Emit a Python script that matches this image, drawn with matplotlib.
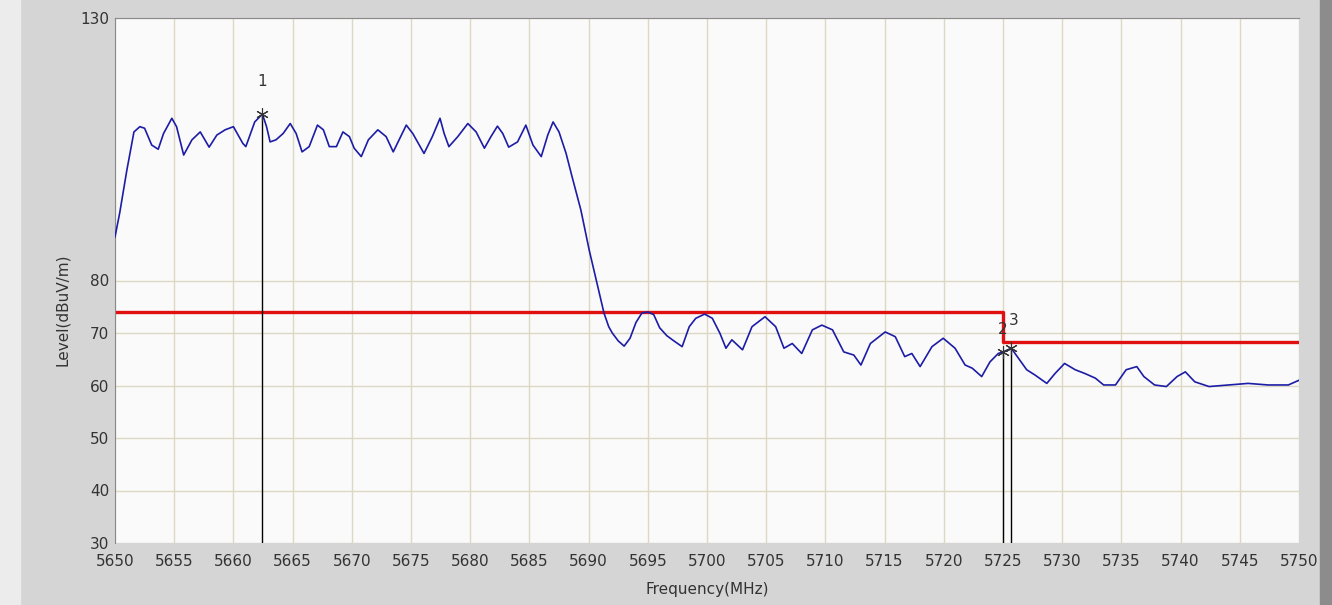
import matplotlib.pyplot as plt
from matplotlib.patches import Rectangle

freq = [5650.0, 5650.4, 5651.0, 5651.6, 5652.1, 5652.5, 5653.1, 5653.65, 5654.1, 5654.8,
        5655.2, 5655.8, 5656.5, 5657.2, 5657.95, 5658.6, 5659.3, 5660.0, 5660.8, 5661.05,
        5661.8, 5662.45, 5662.8, 5663.1, 5663.6, 5664.2, 5664.8, 5665.3, 5665.8, 5666.4,
        5667.1, 5667.6, 5668.1, 5668.7, 5669.25, 5669.8, 5670.2, 5670.8, 5671.4, 5672.2,
        5672.9, 5673.5, 5674.0, 5674.6, 5675.15, 5676.1, 5676.8, 5677.45, 5677.8, 5678.2,
        5678.95, 5679.8, 5680.5, 5681.2, 5681.75, 5682.3, 5682.75, 5683.25, 5684.0, 5684.7,
        5685.3, 5686.0, 5686.55, 5687.0, 5687.5, 5688.1, 5688.6, 5689.35, 5690.05, 5690.9,
        5691.3, 5691.7, 5692.0, 5692.5, 5693.0, 5693.5, 5694.0, 5694.5, 5695.0, 5695.5,
        5696.0, 5696.6, 5697.2, 5697.9, 5698.5, 5699.05, 5699.8, 5700.45, 5701.1, 5701.6,
        5702.1, 5703.0, 5703.8, 5704.9, 5705.8, 5706.5, 5707.2, 5708.0, 5708.9, 5709.7,
        5710.6, 5711.55, 5712.4, 5713.0, 5713.8, 5715.05, 5715.9, 5716.7, 5717.3, 5718.0,
        5719.0, 5719.95, 5720.95, 5721.8, 5722.4, 5723.2, 5723.9, 5724.6, 5725.0, 5725.7,
        5726.3, 5727.0, 5727.7, 5728.7, 5729.4, 5730.2, 5731.1, 5731.9, 5732.8, 5733.5,
        5734.5, 5735.4, 5736.3, 5736.9, 5737.8, 5738.8, 5739.7, 5740.4, 5741.2, 5742.4,
        5744.1, 5745.7, 5747.4, 5749.1, 5749.7, 5750.0]
level = [88.3, 92.9, 101.0, 108.3, 109.3, 109.0, 105.8, 105.0, 108.0, 110.9,
         109.3, 103.9, 106.8, 108.3, 105.4, 107.7, 108.7, 109.3, 106.1, 105.5,
         110.2, 111.7, 109.3, 106.4, 106.8, 108.0, 109.9, 108.0, 104.5, 105.5,
         109.6, 108.7, 105.5, 105.5, 108.3, 107.4, 105.2, 103.6, 106.8, 108.7,
         107.4, 104.5, 106.8, 109.6, 108.0, 104.2, 107.4, 110.9, 108.0, 105.5,
         107.4, 109.9, 108.3, 105.2, 107.4, 109.4, 108.0, 105.4, 106.4, 109.6,
         105.8, 103.6, 107.7, 110.2, 108.3, 104.2, 99.8, 93.4, 85.8, 77.6,
         73.8, 71.2, 70.0, 68.5, 67.5, 69.0, 72.0, 73.8, 74.0, 73.5,
         71.0, 69.5, 68.5, 67.4, 71.2, 72.8, 73.6, 72.8, 69.9, 67.1,
         68.7, 66.8, 71.2, 73.1, 71.2, 67.1, 68.0, 66.1, 70.6, 71.5,
         70.6, 66.4, 65.8, 63.9, 68.0, 70.2, 69.3, 65.5, 66.1, 63.6,
         67.4, 69.0, 67.1, 63.9, 63.3, 61.7, 64.5, 66.1, 66.4, 67.1,
         65.2, 63.0, 62.0, 60.4, 62.3, 64.2, 63.0, 62.3, 61.4, 60.1,
         60.1, 63.0, 63.6, 61.7, 60.1, 59.8, 61.7, 62.6, 60.7, 59.8,
         60.1, 60.4, 60.1, 60.1, 60.7, 61.0]

# limit line (step at band edge)
limit_freq = [5650, 5725, 5725, 5750]
limit_level = [74.0, 74.0, 68.3, 68.3]

# markers
marker_ids = ['1', '2', '3']
marker_freq = [5662.45, 5725.0, 5725.7]
marker_level = [111.7, 66.4, 67.1]

x_ticks = list(range(5650, 5751, 5))
y_ticks = [30, 40, 50, 60, 70, 80, 130]


def plot_spectrum():
    fig = plt.figure(figsize=(13.32, 6.05), dpi=100, facecolor='#d5d5d5')
    fig.patches.append(Rectangle((0, 0), 20 / 1332, 1, transform=fig.transFigure,
                                 color='#ececec', zorder=-1))
    fig.patches.append(Rectangle((1320 / 1332, 0), 12 / 1332, 1, transform=fig.transFigure,
                                 color='#8c8c8c', zorder=-1))
    ax = fig.add_axes([115 / 1332, 62 / 605, 1184 / 1332, 525 / 605])
    ax.set_facecolor('#fafafa')

    ax.plot(freq, level, color='#1c1ca6', lw=1.2, zorder=3)
    ax.plot(limit_freq, limit_level, color='#e01010', lw=2.4, zorder=2)

    for mid, mf, ml in zip(marker_ids, marker_freq, marker_level):
        ax.plot([mf, mf], [30, ml], color='black', lw=1.0, zorder=4)
        ax.plot(mf, ml, marker=(6, 2, 0), color='#333333', ms=9, mew=0.8, zorder=5)
    ax.annotate('1', (marker_freq[0], marker_level[0]), xytext=(0, 20),
                textcoords='offset points', ha='center', fontsize=11, color='#333333')
    ax.annotate('2', (marker_freq[1], marker_level[1]), xytext=(0, 13),
                textcoords='offset points', ha='center', fontsize=11, color='#333333')
    ax.annotate('3', (marker_freq[2], marker_level[2]), xytext=(2, 17),
                textcoords='offset points', ha='center', fontsize=11, color='#333333')

    ax.set_xlim(5650, 5750)
    ax.set_ylim(30, 130)
    ax.set_xticks(x_ticks)
    ax.set_yticks(y_ticks)
    ax.grid(True, color='#ddd8c2', lw=1.0, zorder=0)
    ax.tick_params(length=0, labelsize=11, labelcolor='#333333')
    ax.tick_params(axis='x', pad=8)
    ax.tick_params(axis='y', pad=4)
    for side in ['left', 'top']:
        ax.spines[side].set_color('#8a8a8a')
    for side in ['right', 'bottom']:
        ax.spines[side].set_visible(False)

    ax.set_xlabel('Frequency(MHz)', fontsize=11, color='#333333')
    ax.xaxis.set_label_coords(0.5, -0.075)
    ax.set_ylabel('Level(dBuV/m)', fontsize=11, color='#333333')
    ax.yaxis.set_label_coords(-0.038, 0.445)

    fig.savefig('out.png', dpi=100, facecolor=fig.get_facecolor())


def main():
    plot_spectrum()


if __name__ == "__main__":
    main()
